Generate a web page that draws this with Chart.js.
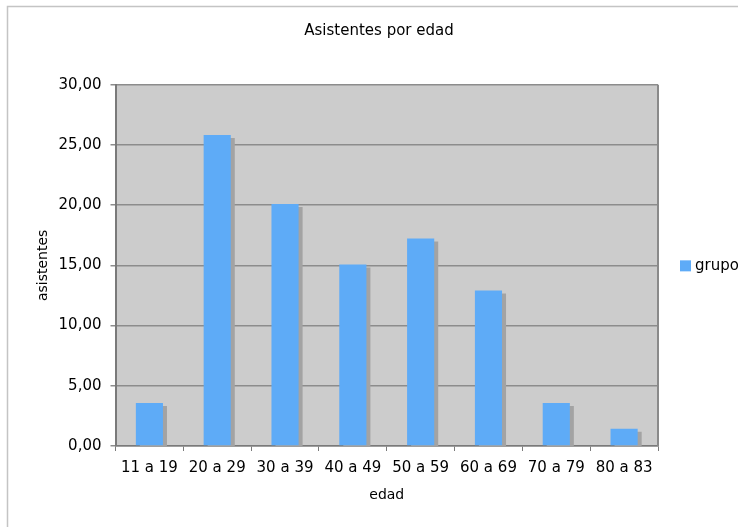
<!DOCTYPE html>
<html>
<head>
<meta charset="utf-8">
<title>Asistentes por edad</title>
<script src="https://cdn.jsdelivr.net/npm/chart.js@4/dist/chart.umd.min.js"></script>
<style>
  html, body { margin: 0; padding: 0; background: #ffffff; overflow: hidden; }
  #wrap { position: relative; width: 738px; height: 527px; }
</style>
</head>
<body>
<div id="wrap"><canvas id="chart" width="738" height="527"></canvas></div>
<script>
// Age groups and share of attendees per group
const categories = ['11 a 19', '20 a 29', '30 a 39', '40 a 49', '50 a 59', '60 a 69', '70 a 79', '80 a 83'];
const seriesName = 'grupo';
const chartTitle = 'Asistentes por edad';
const asistentes = [3.57, 25.83, 20.10, 15.07, 17.22, 12.92, 3.57, 1.43];
const yTicks = { min: 0, max: 30, step: 5 };

const FONT = 'DejaVu Sans, Verdana, sans-serif';
const BAR_COLOR = '#5eabf7';

// Outer frame, chart heading, plot background and the right-hand plot border
const framePlugin = {
  id: 'frame',
  beforeDraw(chart) {
    const { ctx, chartArea: a } = chart;
    ctx.save();
    ctx.fillStyle = '#ffffff';
    ctx.fillRect(0, 0, chart.width, chart.height);
    ctx.strokeStyle = '#c4c4c4';
    ctx.lineWidth = 1.5;
    ctx.beginPath();
    ctx.moveTo(7.5, chart.height);
    ctx.lineTo(7.5, 6.5);
    ctx.lineTo(chart.width, 6.5);
    ctx.stroke();
    ctx.fillStyle = '#cccccc';
    ctx.fillRect(a.left, a.top, a.right - a.left, a.bottom - a.top);
    ctx.fillStyle = '#000000';
    ctx.font = '15px ' + FONT;
    ctx.textAlign = 'center';
    ctx.textBaseline = 'middle';
    ctx.fillText(chartTitle, 379, 31);
    ctx.restore();
  },
  afterDraw(chart) {
    const { ctx, chartArea: a } = chart;
    ctx.save();
    ctx.strokeStyle = '#8a8a8a';
    ctx.lineWidth = 2;
    ctx.beginPath();
    ctx.moveTo(a.right, a.top);
    ctx.lineTo(a.right, a.bottom);
    ctx.stroke();
    ctx.restore();
  }
};

// Flat drop shadow behind each bar
const barShadow = {
  id: 'barShadow',
  beforeDatasetsDraw(chart) {
    const ctx = chart.ctx;
    ctx.save();
    ctx.shadowColor = '#a3a3a3';
    ctx.shadowOffsetX = 4;
    ctx.shadowOffsetY = 3;
    ctx.shadowBlur = 0;
  },
  afterDatasetsDraw(chart) {
    chart.ctx.restore();
  }
};

// Single-entry legend to the right of the plot
const sideLegend = {
  id: 'sideLegend',
  afterDraw(chart) {
    const { ctx, chartArea: a } = chart;
    const ds = chart.data.datasets[0];
    const cy = (a.top + a.bottom) / 2;
    const x = a.right + 22;
    ctx.save();
    ctx.fillStyle = ds.backgroundColor;
    ctx.fillRect(x, cy - 5, 11, 11);
    ctx.fillStyle = '#000000';
    ctx.font = '15px ' + FONT;
    ctx.textBaseline = 'middle';
    ctx.textAlign = 'left';
    ctx.fillText(ds.label, x + 15, cy + 1);
    ctx.restore();
  }
};

new Chart(document.getElementById('chart'), {
  type: 'bar',
  data: {
    labels: categories,
    datasets: [{
      label: seriesName,
      data: asistentes,
      backgroundColor: BAR_COLOR,
      borderWidth: 0,
      barPercentage: 0.4,
      categoryPercentage: 1.0,
      clip: 0
    }]
  },
  plugins: [framePlugin, barShadow, sideLegend],
  options: {
    responsive: false,
    animation: false,
    layout: { padding: { left: 7.5, right: 80, top: 84.7, bottom: 0 } },
    plugins: {
      legend: { display: false },
      tooltip: { enabled: false },
      title: { display: false }
    },
    scales: {
      x: {
        grid: {
          display: true,
          drawOnChartArea: false,
          offset: true,
          tickLength: 5,
          color: '#7a7a7a'
        },
        border: { display: true, color: '#7a7a7a', width: 1.5 },
        ticks: {
          color: '#000000',
          font: { family: FONT, size: 15 },
          padding: 8,
          maxRotation: 0,
          autoSkip: false
        },
        title: {
          display: true,
          text: 'edad',
          color: '#000000',
          font: { family: FONT, size: 14 },
          padding: { top: 0, bottom: 23.6 }
        },
        afterFit(scale) { scale.height = 81; }
      },
      y: {
        min: yTicks.min,
        max: yTicks.max,
        grid: {
          color: '#8c8c8c',
          tickLength: 5,
          lineWidth: 1.5
        },
        border: { display: true, color: '#7a7a7a', width: 2 },
        ticks: {
          stepSize: yTicks.step,
          color: '#000000',
          font: { family: FONT, size: 15 },
          padding: 9,
          callback: v => v.toFixed(2).replace('.', ',')
        },
        title: {
          display: true,
          text: 'asistentes',
          color: '#000000',
          font: { family: FONT, size: 14 },
          padding: { top: 27, bottom: 0 }
        },
        afterFit(scale) { scale.width = 108; }
      }
    }
  }
});
</script>
</body>
</html>
